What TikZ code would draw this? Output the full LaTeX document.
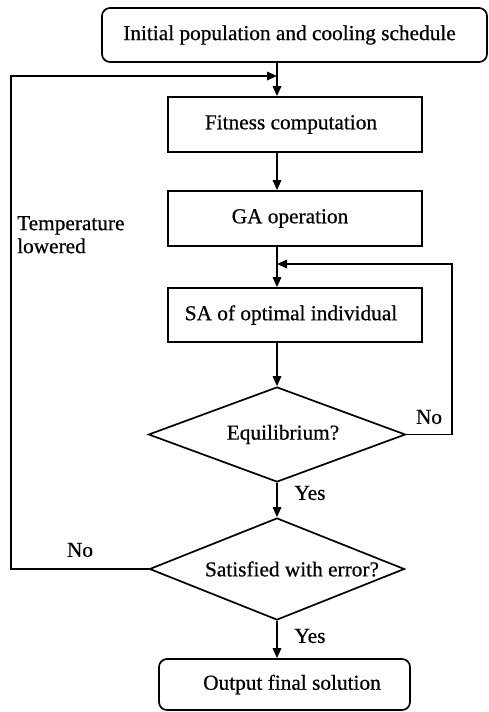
\documentclass[tikz,border=0pt]{standalone}
\usepackage{fontspec}
\setmainfont{Liberation Serif}[FakeBold=0.6]
\usetikzlibrary{shapes.geometric,arrows.meta}
\begin{document}
\begin{tikzpicture}[x=1pt,y=-1pt,
  every node/.style={font=\fontsize{21.3}{23}\selectfont, inner sep=0pt},
  arr/.style={line width=1.7pt,-{Triangle[length=10pt,width=8.5pt]}},
  boxnode/.style={draw,line width=1.7pt,rectangle,minimum width=254pt,minimum height=55pt},
  roundnode/.style={draw,line width=1.7pt,rectangle,rounded corners=8pt},
  dianode/.style={draw,line width=1.7pt,diamond,aspect=2.6},
  txt/.style={anchor=center}
]
\useasboundingbox (0,0) rectangle (488,712);
% spine and loop corner coordinates
\coordinate (spine) at (277,0);
\coordinate (jtop) at (277,76);
\coordinate (jmid) at (277,264);
\coordinate (rc) at (452,264);
\coordinate (lc) at (11,76);

\node[roundnode,minimum width=385pt,minimum height=54pt] (top) at (294.5,35)
  {\hspace*{-10pt}Initial population and cooling schedule};
\node[boxnode] (fit) at (295,124.5) {\hspace*{-8pt}Fitness computation};
\node[boxnode] (ga) at (295,218.5) {\hspace*{-10pt}GA operation};
\node[boxnode,minimum height=54pt] (sa) at (295,315) {\hspace*{-8pt}SA of optimal individual};
\node[dianode,minimum width=257pt,minimum height=95pt] (eq) at (277,434.5) {};
\node[txt] (eqt) at (283,434.5) {Equilibrium?};
\node[dianode,minimum width=255pt,minimum height=102pt] (sat) at (277,569) {};
\node[txt] (satt) at (292,569) {Satisfied with error?};
\node[roundnode,minimum width=251pt,minimum height=51pt] (out) at (284.5,684.5) {};
\node[txt] (outt) at (292,684.5) {Output final solution};

\node[anchor=north west,align=left] (temp) at (17,216) {Temperature\\lowered};
\node (no1) at (429,417) {No};
\node (no2) at (80,550) {No};
\node (yes1) at (310,493) {Yes};
\node (yes2) at (310,636) {Yes};

% main flow
\draw[arr] (top.south -| spine) -- (fit.north -| spine);
\draw[arr] (fit.south -| spine) -- (ga.north -| spine);
\draw[arr] (ga.south -| spine) -- (sa.north -| spine);
\draw[arr] (sa.south -| spine) -- (eq.north);
\draw[arr] (eq.south) -- (sat.north);
\draw[arr] (sat.south) -- (out.north -| sat.south);
% right loop (No from Equilibrium)
\draw[arr] (eq.east) -| (rc) -- (jmid);
% left loop (No from Satisfied)
\draw[arr] (sat.west) -| (lc) -- (jtop);
\end{tikzpicture}
\end{document}
